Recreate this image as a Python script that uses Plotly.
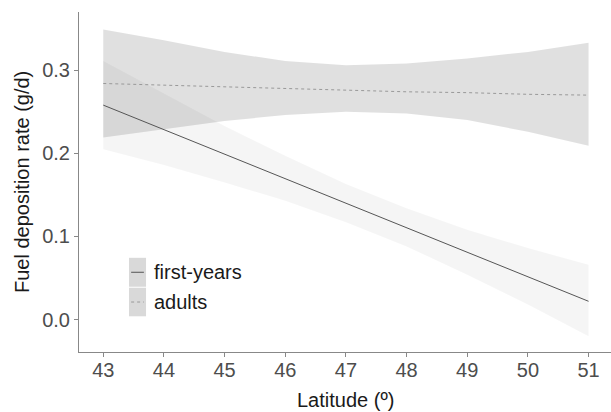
import plotly.graph_objects as go

latitude = [43, 44, 45, 46, 47, 48, 49, 50, 51]

fy_fit = [0.258, 0.2285, 0.199, 0.1695, 0.140, 0.1105, 0.081, 0.0515, 0.022]
fy_upper = [0.311, 0.272, 0.233, 0.197, 0.163, 0.134, 0.108, 0.086, 0.066]
fy_lower = [0.205, 0.186, 0.165, 0.143, 0.117, 0.088, 0.054, 0.018, -0.020]

ad_fit = [0.284, 0.282, 0.280, 0.278, 0.276, 0.274, 0.273, 0.271, 0.270]
ad_upper = [0.349, 0.336, 0.322, 0.311, 0.306, 0.308, 0.314, 0.322, 0.333]
ad_lower = [0.219, 0.229, 0.239, 0.246, 0.250, 0.248, 0.240, 0.226, 0.209]

x_ticks = [43, 44, 45, 46, 47, 48, 49, 50, 51]
y_ticks = [0.0, 0.1, 0.2, 0.3]
y_tick_text = ["0.0", "0.1", "0.2", "0.3"]
legend_labels = ["first-years", "adults"]
x_title = "Latitude (º)"
y_title = "Fuel deposition rate (g/d)"

FONT = "Liberation Sans, Arial, sans-serif"

fig = go.Figure()

# ribbons
fig.add_trace(go.Scatter(
    x=latitude + latitude[::-1], y=fy_upper + fy_lower[::-1],
    fill="toself", fillcolor="rgba(0,0,0,0.04)", line=dict(width=0),
    mode="lines", hoverinfo="skip", showlegend=False))
fig.add_trace(go.Scatter(
    x=latitude + latitude[::-1], y=ad_upper + ad_lower[::-1],
    fill="toself", fillcolor="rgba(0,0,0,0.12)", line=dict(width=0),
    mode="lines", hoverinfo="skip", showlegend=False))

# fitted lines
fig.add_trace(go.Scatter(x=latitude, y=fy_fit, mode="lines",
                         line=dict(color="#555555", width=1), showlegend=False))
fig.add_trace(go.Scatter(x=latitude, y=ad_fit, mode="lines",
                         line=dict(color="#999999", width=1, dash="dot"), showlegend=False))

# legend (manual, ggplot-like keys)
shapes = []
annotations = []
key_x0, key_x1 = 0.094, 0.126
key_rows = [(0.277, 0.192), (0.189, 0.105)]
styles = [dict(color="#555555", width=1), dict(color="#999999", width=1, dash="dot")]
for (ytop, ybot), lab, st in zip(key_rows, legend_labels, styles):
    shapes.append(dict(type="rect", xref="paper", yref="paper", x0=key_x0, x1=key_x1,
                       y0=ybot, y1=ytop, fillcolor="#d9d9d9", line=dict(width=0), layer="above"))
    ym = (ytop + ybot) / 2
    shapes.append(dict(type="line", xref="paper", yref="paper", x0=key_x0 + 0.004, x1=key_x1 - 0.004,
                       y0=ym, y1=ym, line=st, layer="above"))
    annotations.append(dict(xref="paper", yref="paper", x=0.137, y=ym, text=lab, showarrow=False,
                            xanchor="left", yanchor="middle", font=dict(family=FONT, size=20, color="#1a1a1a")))

# axis titles
annotations.append(dict(xref="paper", yref="paper", x=0.5, y=-0.141, text=x_title, showarrow=False,
                        xanchor="center", yanchor="middle", font=dict(family=FONT, size=20, color="#1a1a1a")))
annotations.append(dict(xref="paper", yref="paper", x=-0.107, y=0.5, text=y_title, showarrow=False,
                        textangle=-90, xanchor="center", yanchor="middle",
                        font=dict(family=FONT, size=20, color="#1a1a1a")))

fig.update_layout(
    width=611, height=412,
    margin=dict(l=79, r=0, t=12, b=60, autoexpand=False),
    paper_bgcolor="white", plot_bgcolor="white",
    font=dict(family=FONT, size=20, color="#4d4d4d"),
    shapes=shapes, annotations=annotations,
    xaxis=dict(range=[42.6, 51.37], tickvals=x_ticks, ticks="outside", ticklen=4,
               tickcolor="#888888", showline=True, linecolor="#888888", linewidth=1,
               showgrid=False, zeroline=False, automargin=False, ticklabelstandoff=-4,
               tickfont=dict(family=FONT, size=20, color="#4d4d4d")),
    yaxis=dict(range=[-0.039, 0.370], tickvals=y_ticks, ticktext=y_tick_text, ticks="outside", ticklen=4,
               tickcolor="#888888", showline=True, linecolor="#888888", linewidth=1,
               showgrid=False, zeroline=False, automargin=False,
               tickfont=dict(family=FONT, size=20, color="#4d4d4d")),
)

fig.write_html("out.html", config={"displayModeBar": False},
               post_script="document.body.style.margin='0';document.body.style.padding='0';")
